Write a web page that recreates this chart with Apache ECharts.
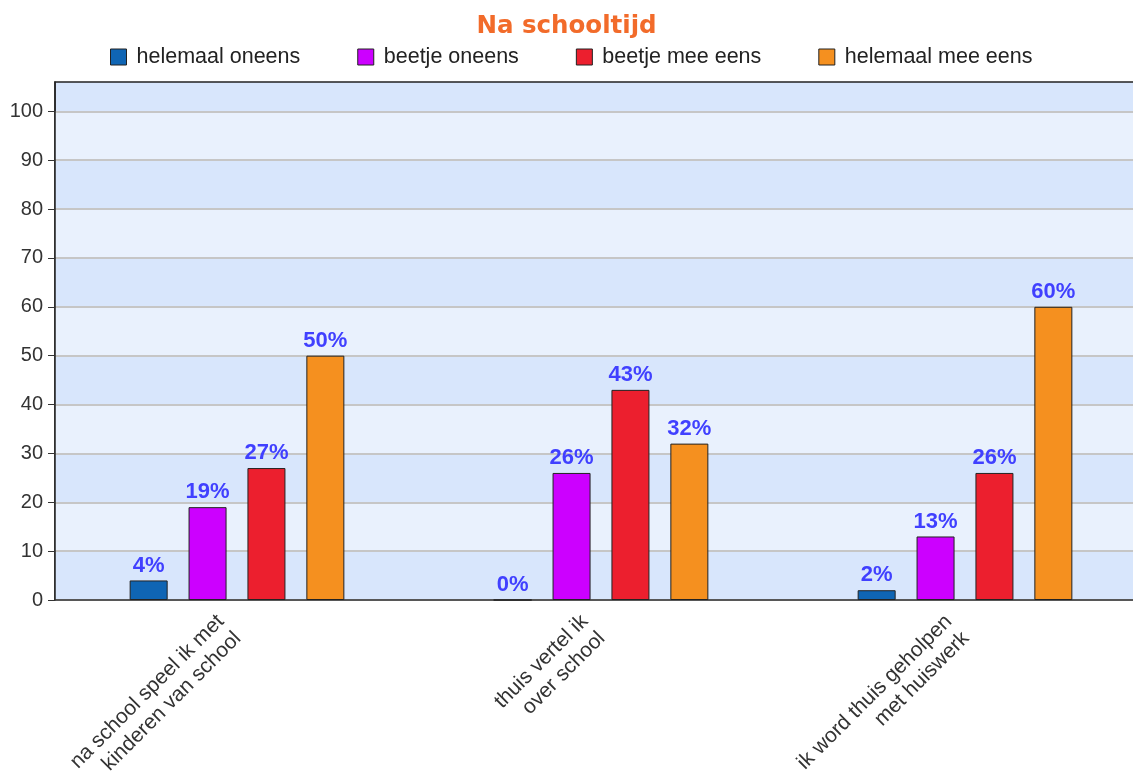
<!DOCTYPE html>
<html>
<head>
<meta charset="utf-8">
<script src="https://cdn.jsdelivr.net/npm/echarts@6/dist/echarts.min.js"></script>
<style>html,body{margin:0;padding:0;background:#fff}#c{width:1133px;height:773px}</style>
</head>
<body>
<div id="c"></div>
<script>
const categories = ["na school speel ik met\nkinderen van school", "thuis vertel ik\nover school", "ik word thuis geholpen\nmet huiswerk"];
const seriesNames = ["helemaal oneens", "beetje oneens", "beetje mee eens", "helemaal mee eens"];
const helemaalOneens = [4, 0, 2];
const beetjeOneens = [19, 26, 13];
const beetjeMeeEens = [27, 43, 26];
const helemaalMeeEens = [50, 32, 60];
const colors = ["#0f65b4", "#cc00ff", "#ec1f2e", "#f5901f"];
const yTicks = [0, 10, 20, 30, 40, 50, 60, 70, 80, 90, 100];

const values = [helemaalOneens, beetjeOneens, beetjeMeeEens, helemaalMeeEens];
const chart = echarts.init(document.getElementById('c'), null, {renderer: 'canvas'});
const font = 'Liberation Sans, Arial, sans-serif';
chart.setOption({
  animation: false,
  textStyle: {fontFamily: font},
  title: {
    text: 'Na schooltijd', left: 'center', top: 9,
    textStyle: {color: '#f26b2a', fontSize: 24.5, fontWeight: 'bold', fontFamily: 'DejaVu Sans, sans-serif'}
  },
  legend: {
    top: 41, left: 105, itemWidth: 16, itemHeight: 16, itemGap: 57,
    icon: 'rect',
    textStyle: {fontSize: 21.5, color: '#222', fontFamily: font, padding: [0, 0, 0, 5]},
    data: seriesNames.map((n, i) => ({name: n, itemStyle: {color: colors[i], borderColor: '#222', borderWidth: 1}}))
  },
  grid: {left: 55, top: 82, width: 1092, height: 518, show: true, borderColor: '#222', borderWidth: 1.5, backgroundColor: '#d8e6fc', containLabel: false, outerBoundsMode: 'none'},
  xAxis: {
    type: 'category', data: categories,
    axisLine: {lineStyle: {color: '#333', width: 1.5}},
    axisTick: {alignWithLabel: true, length: 7, lineStyle: {color: '#333'}},
    axisLabel: {rotate: 45, fontSize: 21, color: '#333', interval: 0, margin: 19, lineHeight: 24, padding: [0, 11, 0, 0], fontFamily: font}
  },
  yAxis: {
    type: 'value', min: 0, max: 106, interval: 10,
    axisLine: {show: true, lineStyle: {color: '#222', width: 1.5}},
    axisTick: {show: true, length: 7, lineStyle: {color: '#333'}, customValues: yTicks},
    axisLabel: {fontSize: 20, color: '#333', margin: 12, fontFamily: font, customValues: yTicks},
    splitLine: {show: true, lineStyle: {color: '#c6c6c6', width: 2}},
    splitArea: {show: true, areaStyle: {color: ['#d8e6fc', '#e9f1fd']}}
  },
  series: seriesNames.map((n, i) => ({
    name: n, type: 'bar', data: values[i],
    barWidth: 38, barGap: '55%',
    itemStyle: {color: colors[i], borderColor: '#222', borderWidth: 1},
    label: {show: true, position: 'top', distance: 4, formatter: '{c}%', color: '#4040ff', fontWeight: 'bold', fontSize: 22, fontFamily: font}
  }))
});
</script>
</body>
</html>
